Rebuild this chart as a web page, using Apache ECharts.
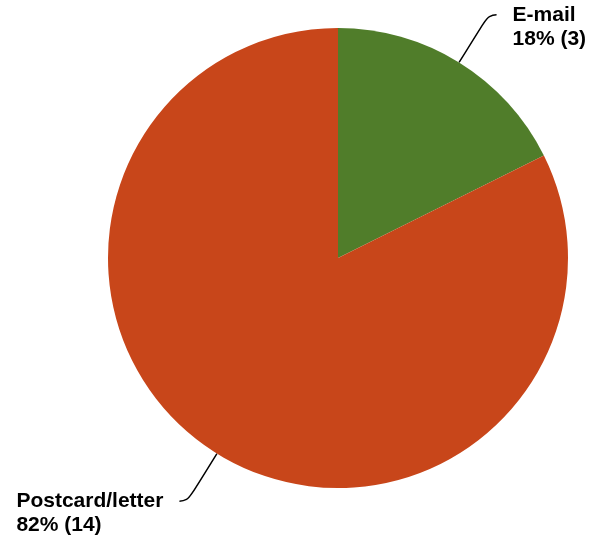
<!DOCTYPE html>
<html>
<head>
<meta charset="utf-8">
<script src="https://cdn.jsdelivr.net/npm/echarts@6/dist/echarts.min.js"></script>
<style>
  html, body { margin: 0; padding: 0; background: #fff; }
</style>
</head>
<body>
<div id="main" style="width: 591px;height: 542px;"></div>
<script>
  // contact method counts
  var categories = ['E-mail', 'Postcard/letter']
  var counts = [3, 14]
  var sliceColors = ['#507d2a', '#c8461a']

  var chart = echarts.init(document.getElementById('main'))
  chart.setOption({
    animation: false,
    color: sliceColors,
    series: [{
      type: 'pie',
      left: 0,
      top: 0,
      width: 591,
      height: 542,
      center: [338, 258],
      radius: 230,
      startAngle: 90,
      percentPrecision: 0,
      data: categories.map(function (name, i) {
        return { name: name, value: counts[i] }
      }),
      label: {
        show: true,
        // blank top line so the label line meets the first text line
        formatter: '{s| }\n{t|{b}}\n{t|{d}% ({c})}',
        fontFamily: 'Liberation Sans, Arial, sans-serif',
        fontWeight: 'bold',
        fontSize: 21,
        lineHeight: 24,
        color: '#000',
        bleedMargin: 0,
        distanceToLabelLine: 16,
        rich: {
          s: { fontSize: 21, lineHeight: 24 },
          t: {
            align: 'left',
            fontFamily: 'Liberation Sans, Arial, sans-serif',
            fontWeight: 'bold',
            fontSize: 21,
            lineHeight: 24,
            color: '#000'
          }
        }
      },
      labelLine: {
        show: true,
        length: 56,
        length2: 8,
        smooth: 0.5,
        lineStyle: { color: '#000', width: 1.5 }
      },
      emphasis: { disabled: true }
    }]
  })
</script>
</body>
</html>
